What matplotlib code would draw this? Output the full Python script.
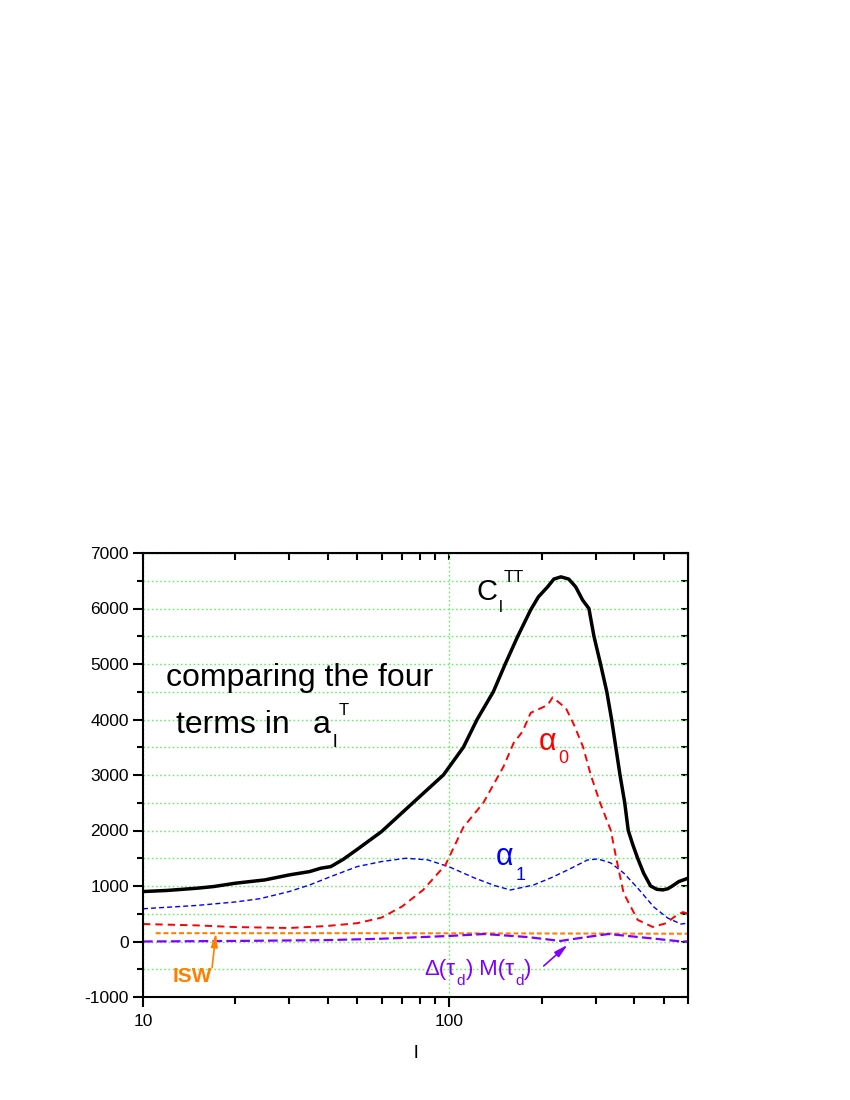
import numpy as np
import matplotlib
matplotlib.use('Agg')
import matplotlib.pyplot as plt
from matplotlib.ticker import MultipleLocator, FixedLocator, NullFormatter, FuncFormatter, LogLocator

plt.rcParams['font.family'] = ['Liberation Sans', 'DejaVu Sans']
plt.rcParams['axes.unicode_minus'] = False
plt.rcParams['lines.scale_dashes'] = False

#---------------------------------------------------------------------
# values
#---------------------------------------------------------------------
l_tt = [10, 12, 15, 17, 20, 25, 30, 35, 38, 41, 45, 50, 60, 76, 95.5, 111, 123, 139, 152, 167,
        184, 195, 209, 219, 231, 245, 258, 272, 285, 296, 311, 326, 338, 360, 373, 383, 396,
        411, 430, 453, 475, 497, 515, 530, 560, 600]
c_tt = [900, 920, 960, 990, 1050, 1110, 1200, 1260, 1320, 1350, 1480, 1660, 1980, 2500, 3000,
        3500, 4000, 4500, 5000, 5500,
        5975, 6210, 6390, 6530, 6570, 6530, 6390, 6150, 6000, 5500, 5000, 4500, 4000, 3000, 2500,
        2000, 1750, 1500, 1230, 1000, 940, 930, 950, 990, 1080, 1140]

l_a0 = [10, 15, 20, 30, 40, 50, 60, 70, 82, 97, 111, 129, 150, 162, 173, 184,
        209, 217, 240, 255, 273, 289, 310, 336, 350, 370, 411, 460, 510, 540, 577, 600]
a0 = [315, 290, 260, 243, 280, 330, 430, 630, 928, 1380, 2060, 2500, 3150, 3580, 3780, 4120,
      4260, 4400, 4200, 3900, 3500, 3000, 2500, 2000, 1500, 870, 390, 262, 330, 440, 530, 500]

l_a1 = [10, 15, 20, 24, 27, 30, 35, 41, 50, 60, 72, 85, 100, 120, 140, 158, 188,
        215, 243, 282, 305, 336, 370, 411, 464, 515, 569, 600]
a1 = [590, 650, 712, 770, 838, 900, 1020, 1170, 1350, 1440, 1500, 1470, 1343, 1150, 1010, 928,
      1018, 1150, 1289, 1469, 1487, 1415, 1234, 964, 622, 423, 315, 330]

l_isw = [11, 50, 200, 600]
isw = [150, 150, 145, 140]

l_dm = [10, 20, 40, 60, 100, 130, 180, 230, 280, 330, 450, 570, 600]
dm = [0, 10, 25, 50, 100, 135, 80, 10, 80, 135, 60, 0, 0]

yticks = [-1000, 0, 1000, 2000, 3000, 4000, 5000, 6000, 7000]

W, H = 850, 1100
fig = plt.figure(figsize=(8.5, 11), dpi=100, facecolor='white')
ax = fig.add_axes([143/W, 103/H, 545/W, 444/H])
renderer = fig.canvas.get_renderer()

def flow(x, y, pieces, color='black', **kw):
    # pieces: (text, size, dy, dx) in figure pixels, y from top, baseline aligned
    for s, size, dy, dx in pieces:
        x += dx
        t = fig.text(x/W, 1 - (y + dy)/H, s, fontsize=size, color=color,
                     ha='left', va='baseline', **kw)
        x = t.get_window_extent(renderer=renderer).x1

gridkw = dict(color='#66ee66', linewidth=1.0, linestyle=(0, (1.2, 1.8)))
ax.set_axisbelow(True)

ax.plot(l_isw, isw, color='#ff8000', lw=1.5, dashes=(3.6, 2.0))
ax.plot(l_dm, dm, color='#8000ff', lw=1.6, dashes=(7, 3))
ax.plot(l_a1, a1, color='#0000ff', lw=1.0, dashes=(3.6, 2.2))
ax.plot(l_a0, a0, color='#ff0000', lw=1.4, dashes=(5.3, 3.6))
ax.plot(l_tt, c_tt, color='black', lw=2.5)

ax.set_xscale('log')
ax.set_xlim(10, 600)
ax.set_ylim(-1000, 7000)

ax.xaxis.set_major_locator(FixedLocator([10, 100]))
ax.xaxis.set_major_formatter(FuncFormatter(lambda v, p: '%d' % v))
ax.xaxis.set_minor_locator(LogLocator(base=10, subs=np.arange(2, 10)))
ax.xaxis.set_minor_formatter(NullFormatter())
ax.yaxis.set_major_locator(FixedLocator(yticks))
ax.yaxis.set_minor_locator(MultipleLocator(500))

ax.yaxis.grid(True, which='both', **gridkw)
ax.xaxis.grid(True, which='major', **gridkw)

for s in ax.spines.values():
    s.set_linewidth(1.5)
ax.tick_params(which='major', direction='out', length=7, width=1.5, labelsize=12.5, pad=3)
ax.tick_params(which='minor', direction='out', length=4, width=1.5)
ax.tick_params(axis='x', which='major', length=7, pad=5)
ax.tick_params(axis='x', which='minor', length=5)

# inward ticks on the mirrored top and right axes
top = ax.secondary_xaxis('top')
top.xaxis.set_major_locator(FixedLocator([10, 100]))
top.xaxis.set_minor_locator(LogLocator(base=10, subs=np.arange(2, 10)))
top.xaxis.set_major_formatter(NullFormatter())
top.xaxis.set_minor_formatter(NullFormatter())
top.tick_params(which='both', direction='in', length=5, width=1.5)
right = ax.secondary_yaxis('right')
right.yaxis.set_major_locator(FixedLocator(yticks))
right.yaxis.set_minor_locator(MultipleLocator(500))
right.yaxis.set_major_formatter(NullFormatter())
right.tick_params(which='both', direction='in', length=5, width=1.5)

ax.set_xlabel('l', fontsize=14, labelpad=12)

# annotations
flow(166, 686, [('comparing the four', 23, 0, 0)])
flow(176, 733, [('terms in', 23, 0, 0)])
flow(313, 733, [('a', 23, 0, 0), ('l', 14, 14, 2), ('T', 12, -18, 1)])

flow(477, 600, [('C', 21, 0, 0), ('l', 12, 12, 1), ('TT', 12, -18, 1)])

flow(539, 750, [('α', 22, 0, 0), ('0', 13, 13, 2)], color='#ff0000')
flow(496, 865, [('α', 22, 0, 0), ('1', 13, 15, 2)], color='#0000ff')

flow(173, 982, [('ISW', 15, 0, 0)], color='#ff8000', fontweight='bold')
ax.annotate('', xy=(17.3, 150), xytext=(16.8, -470),
            arrowprops=dict(arrowstyle='-|>,head_width=0.2,head_length=0.8',
                            color='#ff8000', lw=1.2, shrinkA=0, shrinkB=0))

purple = '#8000ff'
flow(424, 975, [('Δ(τ', 16, 0, 0), ('d', 11, 10, 1), (')', 16, 0, 1),
                (' M(τ', 16, 0, 0), ('d', 11, 10, 1), (')', 16, 0, 1)], color=purple)
ax.annotate('', xy=(243, -60), xytext=(203, -440),
            arrowprops=dict(arrowstyle='-|>,head_width=0.2,head_length=0.8',
                            color=purple, lw=1.2, shrinkA=0, shrinkB=0))

plt.savefig('out.png', dpi=100, facecolor='white')
